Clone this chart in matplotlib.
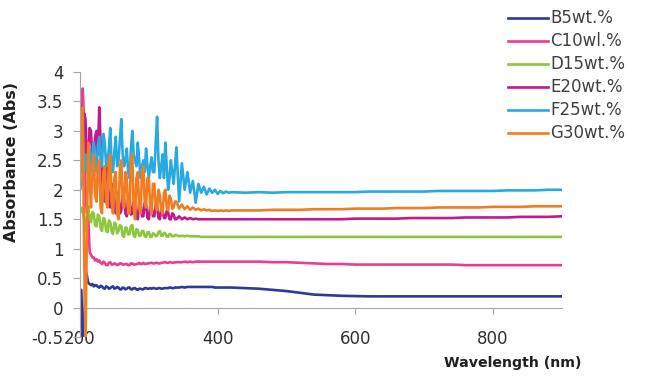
import numpy as np
import matplotlib
matplotlib.use("Agg")
import matplotlib.pyplot as plt

# wavelength sampling (nm)
wavelength = np.concatenate([np.arange(200, 341, 2), np.arange(344, 421, 4),
                             np.arange(440, 901, 20)])

labels = ["B5wt.%", "C10wl.%", "D15wt.%", "E20wt.%", "F25wt.%", "G30wt.%"]
colors = ["#2E3A98", "#EC3D8E", "#8DC63F", "#C2198D", "#27AAE1", "#F07D22"]

b5 = [0.30, 0.30, -0.6, -0.6, 0.64, 0.55, 0.42, 0.40, 0.38, 0.40,
      0.36, 0.38, 0.38, 0.35, 0.34, 0.37, 0.36, 0.33, 0.32, 0.36,
      0.35, 0.32, 0.33, 0.35, 0.36, 0.32, 0.33, 0.35, 0.34, 0.31,
      0.31, 0.34, 0.33, 0.31, 0.32, 0.34, 0.34, 0.31, 0.31, 0.33,
      0.33, 0.31, 0.30, 0.32, 0.32, 0.31, 0.31, 0.33, 0.33, 0.32,
      0.32, 0.33, 0.32, 0.33, 0.33, 0.32, 0.32, 0.33, 0.33, 0.32,
      0.32, 0.33, 0.33, 0.33, 0.33, 0.34, 0.34, 0.33, 0.33, 0.34,
      0.34,
      0.34, 0.35, 0.34, 0.35, 0.35, 0.35, 0.35, 0.35, 0.35, 0.35,
      0.35, 0.35, 0.35, 0.34, 0.34, 0.34, 0.34, 0.34, 0.34, 0.34,
      0.33, 0.32, 0.30, 0.28, 0.25, 0.22, 0.21, 0.20, 0.195, 0.19,
      0.19, 0.19, 0.19, 0.19, 0.19, 0.19, 0.19, 0.19, 0.19, 0.19,
      0.19, 0.19, 0.19, 0.19]
c10 = [3.30, 3.50, 3.72, 3.20, 2.00, 1.60, 1.55, 0.95, 0.90, 0.85,
       0.85, 0.80, 0.82, 0.78, 0.80, 0.76, 0.74, 0.78, 0.76, 0.72,
       0.72, 0.76, 0.77, 0.73, 0.73, 0.75, 0.74, 0.72, 0.73, 0.75,
       0.75, 0.73, 0.73, 0.74, 0.74, 0.72, 0.72, 0.75, 0.75, 0.73,
       0.73, 0.74, 0.74, 0.76, 0.74, 0.74, 0.76, 0.74, 0.74, 0.75,
       0.75, 0.76, 0.76, 0.75, 0.75, 0.76, 0.76, 0.75, 0.75, 0.76,
       0.76, 0.77, 0.77, 0.76, 0.76, 0.77, 0.77, 0.76, 0.76, 0.77,
       0.77,
       0.77, 0.77, 0.78, 0.77, 0.78, 0.77, 0.78, 0.78, 0.78, 0.78,
       0.78, 0.78, 0.78, 0.78, 0.78, 0.78, 0.78, 0.78, 0.78, 0.78,
       0.78, 0.78, 0.77, 0.77, 0.76, 0.75, 0.74, 0.74, 0.73, 0.73,
       0.73, 0.73, 0.73, 0.73, 0.73, 0.73, 0.72, 0.72, 0.72, 0.72,
       0.72, 0.72, 0.72, 0.72]
d15 = [1.60, 1.65, 1.70, 1.50, 1.30, 1.55, 1.72, 1.50, 1.45, 1.62,
       1.60, 1.40, 1.38, 1.58, 1.55, 1.35, 1.30, 1.52, 1.50, 1.30,
       1.28, 1.48, 1.45, 1.30, 1.25, 1.44, 1.42, 1.26, 1.30, 1.40,
       1.38, 1.22, 1.20, 1.36, 1.35, 1.24, 1.25, 1.38, 1.40, 1.22,
       1.20, 1.33, 1.32, 1.22, 1.22, 1.30, 1.30, 1.21, 1.20, 1.28,
       1.28, 1.20, 1.20, 1.26, 1.25, 1.21, 1.22, 1.28, 1.30, 1.22,
       1.22, 1.27, 1.26, 1.21, 1.20, 1.25, 1.24, 1.21, 1.21, 1.23,
       1.23,
       1.21, 1.22, 1.21, 1.22, 1.21, 1.21, 1.21, 1.21, 1.20, 1.20,
       1.20, 1.20, 1.20, 1.20, 1.20, 1.20, 1.20, 1.20, 1.20, 1.20,
       1.20, 1.20, 1.20, 1.20, 1.20, 1.20, 1.20, 1.20, 1.20, 1.20,
       1.20, 1.20, 1.20, 1.20, 1.20, 1.20, 1.20, 1.20, 1.20, 1.20,
       1.20, 1.20, 1.20, 1.20]
e20 = [3.45, 3.00, 2.70, 3.30, 3.20, 2.40, 2.60, 3.05, 3.00, 2.50,
       2.50, 2.90, 3.00, 2.60, 3.40, 2.80, 2.20, 1.90, 1.80, 2.40,
       2.30, 1.80, 1.70, 2.10, 2.00, 1.65, 1.60, 1.95, 1.90, 1.60,
       1.65, 1.90, 1.85, 1.60, 1.55, 1.85, 1.90, 1.58, 1.60, 1.80,
       1.75, 1.52, 1.50, 1.80, 1.80, 1.55, 1.55, 1.78, 1.75, 1.52,
       1.50, 1.72, 1.70, 1.55, 1.55, 1.75, 1.72, 1.52, 1.50, 1.68,
       1.65, 1.52, 1.52, 1.64, 1.62, 1.50, 1.50, 1.60, 1.58, 1.50,
       1.50,
       1.55, 1.50, 1.53, 1.50, 1.52, 1.50, 1.51, 1.50, 1.50, 1.50,
       1.50, 1.50, 1.50, 1.50, 1.50, 1.50, 1.50, 1.50, 1.50, 1.50,
       1.50, 1.50, 1.50, 1.50, 1.50, 1.50, 1.50, 1.50, 1.51, 1.51,
       1.51, 1.51, 1.52, 1.52, 1.52, 1.52, 1.53, 1.53, 1.53, 1.53,
       1.54, 1.54, 1.54, 1.55]
f25 = [2.00, 2.10, 2.20, 2.40, 2.60, 2.30, 2.50, 2.70, 2.20, 2.60,
       2.80, 2.40, 2.30, 2.75, 2.90, 2.50, 2.40, 2.95, 2.80, 2.40,
       2.50, 2.70, 3.05, 2.40, 2.30, 2.65, 2.90, 2.40, 2.50, 2.85,
       3.20, 2.60, 2.40, 2.50, 2.70, 2.30, 2.20, 2.70, 3.00, 2.60,
       2.50, 2.40, 2.80, 2.50, 2.20, 2.40, 2.50, 2.30, 2.70, 2.40,
       2.20, 2.40, 2.55, 2.30, 2.30, 2.80, 3.24, 2.50, 2.20, 2.40,
       2.60, 2.20, 2.80, 2.40, 2.00, 2.20, 2.50, 2.30, 2.10, 2.40,
       2.72,
       1.80, 2.45, 2.00, 2.30, 1.95, 2.15, 1.78, 2.10, 1.95, 2.05,
       1.92, 2.02, 1.95, 2.00, 1.93, 1.98, 1.94, 1.97, 1.95, 1.96,
       1.95, 1.96, 1.95, 1.96, 1.96, 1.96, 1.96, 1.96, 1.96, 1.97,
       1.97, 1.97, 1.97, 1.97, 1.98, 1.98, 1.98, 1.98, 1.98, 1.99,
       1.99, 1.99, 2.00, 2.00]
g30 = [2.00, 2.60, 3.40, 1.00, -0.60, 1.20, 2.80, 2.20, 1.70, 2.40,
       2.60, 1.90, 1.80, 2.40, 2.50, 1.70, 1.60, 2.30, 2.40, 1.80,
       1.70, 2.50, 2.60, 1.80, 1.60, 2.20, 2.30, 1.60, 1.50, 2.40,
       2.50, 1.80, 1.70, 2.30, 2.20, 1.60, 1.60, 2.50, 2.60, 1.70,
       1.50, 2.20, 2.30, 1.70, 1.60, 2.30, 2.40, 1.80, 1.70, 2.20,
       2.20, 1.70, 1.60, 2.10, 2.10, 1.70, 1.65, 2.00, 1.90, 1.65,
       1.60, 1.95, 2.00, 1.70, 1.65, 1.90, 1.85, 1.68, 1.70, 1.80,
       1.80,
       1.68, 1.75, 1.67, 1.72, 1.66, 1.70, 1.66, 1.68, 1.65, 1.67,
       1.65, 1.66, 1.64, 1.65, 1.64, 1.65, 1.64, 1.65, 1.64, 1.65,
       1.65, 1.65, 1.66, 1.66, 1.66, 1.67, 1.67, 1.67, 1.68, 1.68,
       1.68, 1.69, 1.69, 1.69, 1.70, 1.70, 1.70, 1.70, 1.71, 1.71,
       1.71, 1.72, 1.72, 1.72]
series = [b5, c10, d15, e20, f25, g30]

xticks = [200, 400, 600, 800]
yticks = [-0.5, 0, 0.5, 1, 1.5, 2, 2.5, 3, 3.5, 4]
ytick_labels = ["-0.5", "0", "0.5", "1", "1.5", "2", "2.5", "3", "3.5", "4"]

plt.rcParams['font.family'] = ['DejaVu Sans']
fig = plt.figure(figsize=(6.47, 3.76), dpi=100)
ax = fig.add_axes([0.1236, 0.1037, 0.7450, 0.7048])

for vals, col, lab in zip(series, colors, labels):
    ax.plot(wavelength, vals, color=col, lw=1.9, label=lab)

ax.set_xlim(200, 900)
ax.set_ylim(-0.5, 4)
ax.set_xticks(xticks)
ax.set_xticklabels([str(t) for t in xticks])
ax.set_yticks(yticks)
ax.set_yticklabels(ytick_labels)

gray = "#A6A6A6"
for s in ["top", "right"]:
    ax.spines[s].set_visible(False)
ax.spines["bottom"].set_position(("data", 0))
ax.spines["bottom"].set_color(gray)
ax.spines["left"].set_color(gray)
ax.spines["bottom"].set_zorder(0.5)
ax.tick_params(axis="x", direction="out", length=4, color=gray, pad=12,
               labelsize=12, labelcolor="#303030")
ax.tick_params(axis="y", direction="out", length=5, color=gray, pad=7,
               labelsize=12, labelcolor="#303030")

ax.set_ylabel("Absorbance (Abs)", fontsize=11.5, fontweight="bold", color="#202020")
ax.yaxis.set_label_coords(-0.1255, 0.66)
fig.text(0.793, 0.035, "Wavelength (nm)", fontsize=10.2, fontweight="bold",
         color="#202020", ha="center", va="center")

fig.legend(loc="upper left", bbox_to_anchor=(0.780, 0.984), frameon=False,
           fontsize=12, handlelength=2.4, handletextpad=0.15, labelspacing=0.3,
           borderaxespad=0, borderpad=0.2, labelcolor="#404040")

fig.savefig("out.png", dpi=100)
